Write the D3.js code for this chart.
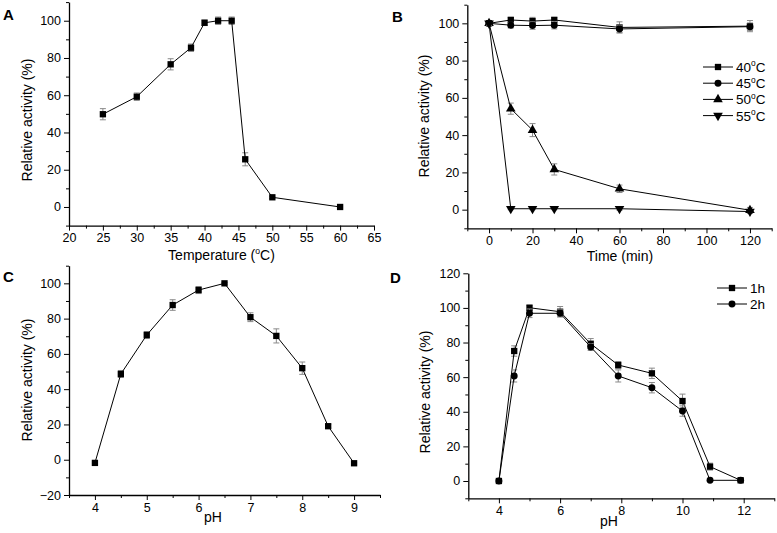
<!DOCTYPE html>
<html><head><meta charset="utf-8">
<script src="https://cdn.jsdelivr.net/npm/d3@7"></script>
<style>
body{margin:0;background:#fff}
text{font-family:"Liberation Sans",Arial,sans-serif;fill:#000}
</style>
</head><body>
<svg id="chart" width="777" height="533"></svg>
<script>
// ---------- data ----------
const tempA = [25, 30, 35, 38, 40, 42, 44, 46, 50, 60];
const actA  = [49.8, 59.2, 76.6, 85.5, 98.9, 100, 100, 25.6, 5.2, 0];
const errA  = [3, 2, 3, 2, 1.5, 2, 2, 3.5, 0.6, 0.5];

const timeB = [0, 10, 20, 30, 60, 120];
const b40   = [100, 101.8, 101.2, 101.8, 97.8, 98.5];
const b40e  = [1, 1.5, 2, 1.5, 3, 3];
const b45   = [100, 99, 98.8, 99, 97, 98.2];
const b45e  = [1, 1.5, 2, 2, 2, 2];
const b50   = [100, 54.2, 42.7, 21.6, 11.2, -0.3];
const b50e  = [1, 3, 3.5, 3, 2, 1.5];
const b55   = [100, 0.5, 0.5, 0.5, 0.5, -1];
const b55e  = [1, 0.5, 0.5, 0.5, 0.8, 1];
const legendB = ["40", "45", "50", "55"];

const phC  = [4, 4.5, 5, 5.5, 6, 6.5, 7, 7.5, 8, 8.5, 9];
const actC = [-1.8, 48.6, 70.7, 87.7, 96.2, 100, 80.8, 70.2, 51.9, 19, -2];
const errC = [0.5, 2, 2, 3, 2, 0.5, 2.5, 4, 3.5, 1, 0.5];

const phD  = [4, 4.5, 5, 6, 7, 7.9, 9, 10, 10.9, 11.9];
const d1h  = [0, 75.1, 100.1, 97.8, 79.3, 67, 62.2, 46.2, 8.3, 0.4];
const d1hE = [0.5, 3, 1.5, 3, 3, 2, 3, 4, 2, 0.5];
const d2h  = [0, 60.7, 96.9, 96.9, 77.4, 60.7, 53.9, 40.4, 0.4, 0.4];
const d2hE = [0.5, 3.5, 2.5, 2, 2, 3.5, 3, 3, 0.5, 0.5];
const legendD = ["1h", "2h"];

const ticksA = {x: d3.range(20, 66, 5), xm: d3.range(22.5, 65, 5), y: d3.range(0, 101, 20), ym: d3.range(-10, 111, 20)};
const ticksB = {x: d3.range(0, 121, 20), xm: d3.range(-10, 131, 20), y: d3.range(0, 101, 20), ym: d3.range(-10, 111, 20)};
const ticksC = {x: d3.range(4, 9.1, 1), xm: d3.range(3.5, 9.6, 1), y: d3.range(-20, 101, 20), ym: d3.range(-10, 111, 20)};
const ticksD = {x: d3.range(4, 12.1, 2), xm: d3.range(3, 13.1, 2), y: d3.range(0, 121, 20), ym: d3.range(-10, 111, 20)};

// ---------- drawing ----------
const svg = d3.select("#chart");
const fmt = d3.format("~g");
const sym = {
  square: d3.symbol().type(d3.symbolSquare).size(40),
  circle: d3.symbol().type(d3.symbolCircle).size(38),
  tri: d3.symbol().type(d3.symbolTriangle).size(40)
};
function marker(g, type, x, y) {
  if (type === "down") {
    g.append("path").attr("d", sym.tri()).attr("transform", `translate(${x},${y}) rotate(180)`).attr("fill", "#000");
  } else {
    g.append("path").attr("d", sym[type === "up" ? "tri" : type]()).attr("transform", `translate(${x},${y})`).attr("fill", "#000");
  }
}
function addTitle(t, parts, size) {
  let raised = false;
  parts.forEach(p => {
    if (p.sup) {
      t.append("tspan").attr("font-size", size * 0.62).attr("dy", -size * 0.42).text(p.sup);
      raised = true;
    } else {
      const s = t.append("tspan").text(p.t);
      if (raised) { s.attr("dy", size * 0.42); raised = false; }
    }
  });
}

function panel(cfg) {
  const g = svg.append("g");
  const x = d3.scaleLinear().domain(cfg.xd).range(cfg.xr);
  const y = d3.scaleLinear().domain(cfg.yd).range(cfg.yr);
  // axes
  const ax = g.append("g").attr("transform", `translate(0,${cfg.yr[0]})`);
  ax.call(d3.axisBottom(x).tickValues(cfg.ticks.x).tickSize(5).tickSizeOuter(0).tickPadding(3).tickFormat(fmt));
  ax.append("g").call(d3.axisBottom(x).tickValues(cfg.ticks.xm).tickSize(3).tickFormat(""))
    .select(".domain").remove();
  const ay = g.append("g").attr("transform", `translate(${cfg.xr[0]},0)`);
  ay.call(d3.axisLeft(y).tickValues(cfg.ticks.y).tickSize(5).tickSizeOuter(0).tickPadding(3).tickFormat(fmt));
  ay.append("g").call(d3.axisLeft(y).tickValues(cfg.ticks.ym).tickSize(3).tickFormat(""))
    .select(".domain").remove();
  g.selectAll(".domain").attr("stroke", "#000").attr("stroke-width", 1.3);
  g.selectAll(".tick line").attr("stroke", "#000").attr("stroke-width", 1);
  g.selectAll(".tick text").attr("font-size", 12.5).attr("font-family", '"Liberation Sans",Arial,sans-serif').attr("fill", "#111");
  // series
  cfg.series.forEach(s => {
    const pts = s.x.map((xv, i) => ({x: xv, y: s.y[i], e: s.e[i]}));
    pts.forEach(p => {
      const eb = g.append("g").attr("stroke", "#8a8a8a").attr("stroke-width", 1);
      const px = x(p.x), y1 = y(p.y + p.e), y2 = y(p.y - p.e);
      eb.append("line").attr("x1", px).attr("x2", px).attr("y1", y1).attr("y2", y2);
      eb.append("line").attr("x1", px - 3).attr("x2", px + 3).attr("y1", y1).attr("y2", y1);
      eb.append("line").attr("x1", px - 3).attr("x2", px + 3).attr("y1", y2).attr("y2", y2);
    });
    g.append("path").datum(pts)
      .attr("d", d3.line().x(d => x(d.x)).y(d => y(d.y)))
      .attr("fill", "none").attr("stroke", "#000").attr("stroke-width", 1);
    pts.forEach(p => marker(g, s.m, x(p.x), y(p.y)));
  });
  // titles
  const xt = g.append("text").attr("x", cfg.xtPos[0]).attr("y", cfg.xtPos[1])
    .attr("text-anchor", "middle").attr("font-size", 14);
  addTitle(xt, cfg.xTitle, 14);
  g.append("text").attr("transform", `translate(${cfg.ytPos[0]},${cfg.ytPos[1]}) rotate(-90)`)
    .attr("text-anchor", "middle").attr("font-size", 14).text("Relative activity (%)");
  g.append("text").attr("x", cfg.letter[1]).attr("y", cfg.letter[2])
    .attr("font-size", 15).attr("font-weight", "bold").text(cfg.letter[0]);
  // legend
  if (cfg.legend) {
    const L = cfg.legend;
    L.items.forEach((it, i) => {
      const ly = L.y + i * L.dy;
      g.append("line").attr("x1", L.x).attr("x2", L.x + 30).attr("y1", ly).attr("y2", ly)
        .attr("stroke", "#000").attr("stroke-width", 1);
      marker(g, it.m, L.x + 15, ly);
      const t = g.append("text").attr("x", L.x + 33).attr("y", ly + 5).attr("font-size", 13.5);
      addTitle(t, it.label, 13.5);
    });
  }
}

panel({
  xd: [20, 65], xr: [69, 374], yd: [-10, 110], yr: [225.6, 2.1], ticks: ticksA,
  series: [{x: tempA, y: actA, e: errA, m: "square"}],
  xTitle: [{t: "Temperature ("}, {sup: "o"}, {t: "C)"}], xtPos: [221.5, 260],
  ytPos: [32, 120], letter: ["A", 3, 20]
});
panel({
  xd: [-10, 130], xr: [467.3, 771.7], yd: [-10, 110], yr: [228.3, 4.7], ticks: ticksB,
  series: [
    {x: timeB, y: b40, e: b40e, m: "square"},
    {x: timeB, y: b45, e: b45e, m: "circle"},
    {x: timeB, y: b50, e: b50e, m: "up"},
    {x: timeB, y: b55, e: b55e, m: "down"}
  ],
  xTitle: [{t: "Time (min)"}], xtPos: [620, 261],
  ytPos: [428.5, 116], letter: ["B", 392, 22],
  legend: {x: 703, y: 67, dy: 16.2, items: legendB.map((l, i) => ({m: ["square", "circle", "up", "down"][i], label: [{t: l}, {sup: "o"}, {t: "C"}]}))}
});
panel({
  xd: [3.5, 9.5], xr: [69, 380], yd: [-20, 110], yr: [495, 265.7], ticks: ticksC,
  series: [{x: phC, y: actC, e: errC, m: "square"}],
  xTitle: [{t: "pH"}], xtPos: [213, 522],
  ytPos: [32, 380], letter: ["C", 3, 282]
});
panel({
  xd: [3, 13], xr: [468.3, 774.3], yd: [-10, 120], yr: [498.3, 273.3], ticks: ticksD,
  series: [
    {x: phD, y: d1h, e: d1hE, m: "square"},
    {x: phD, y: d2h, e: d2hE, m: "circle"}
  ],
  xTitle: [{t: "pH"}], xtPos: [609, 526],
  ytPos: [429.5, 392], letter: ["D", 390, 283],
  legend: {x: 717, y: 288, dy: 16, items: legendD.map((l, i) => ({m: ["square", "circle"][i], label: [{t: l}]}))}
});
</script>
</body></html>
